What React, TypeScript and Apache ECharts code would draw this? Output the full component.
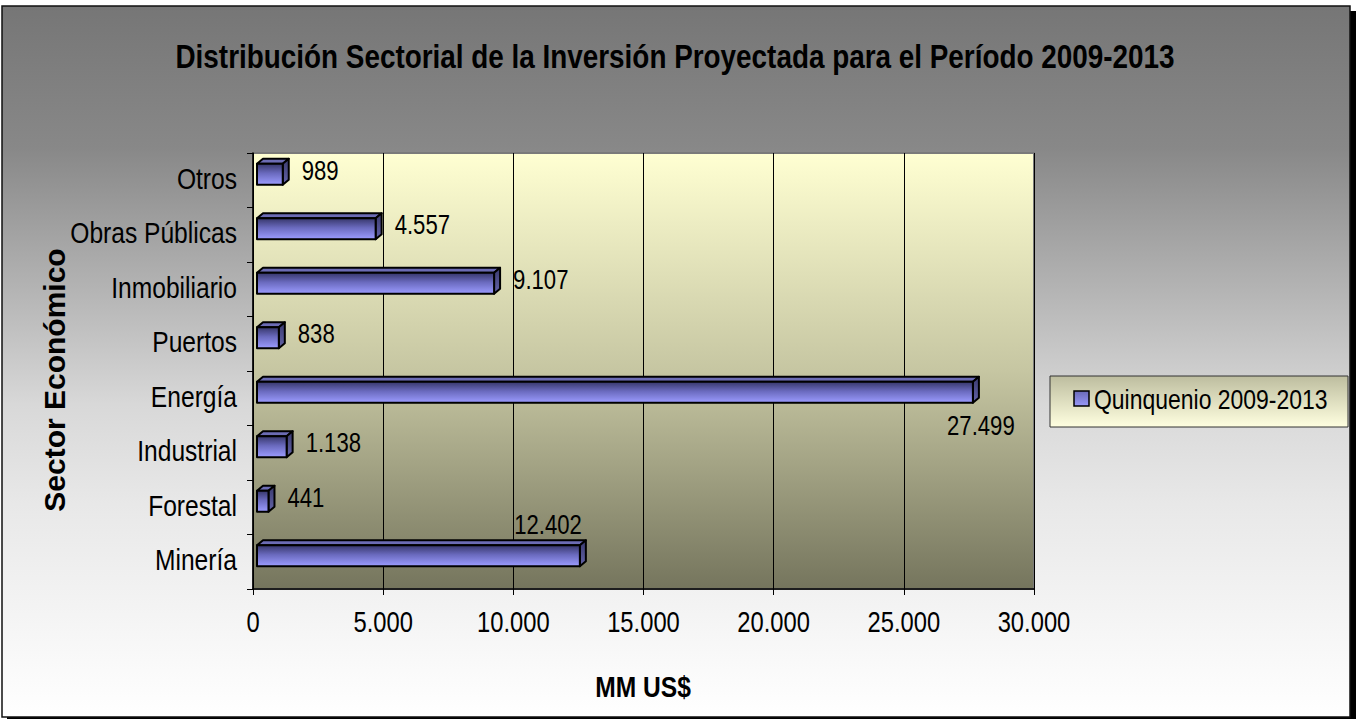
import React, { useEffect, useRef } from "react";
import * as echarts from "echarts";

const categories = ["Minería", "Forestal", "Industrial", "Energía", "Puertos", "Inmobiliario", "Obras Públicas", "Otros"];
const values = [12402, 441, 1138, 27499, 838, 9107, 4557, 989];
const labelPlacement = ["top", "right", "right", "bottom", "right", "right", "right", "right"];
const xTicks = [0, 5000, 10000, 15000, 20000, 25000, 30000];
const seriesName = "Quinquenio 2009-2013";
const titleText = "Distribución Sectorial de la Inversión Proyectada para el Período 2009-2013";
const xAxisTitle = "MM US$";
const yAxisTitle = "Sector Económico";
const xMax = 30000;
const xStep = 5000;

const FONT = "'Liberation Sans', Arial, sans-serif";
const NARROW = 0.82;

function fmt(n: number): string {
  return String(Math.round(n)).replace(/\B(?=(\d{3})+(?!\d))/g, ".");
}

export default function App() {
  const ref = useRef<HTMLDivElement>(null);
  useEffect(() => {
    document.body.style.margin = "0";
    const chart = echarts.init(ref.current!, null, { renderer: "svg" });
    const W = 1363, H = 719;
    const baseGraphic: any[] = [
      { type: "rect", z: -10, shape: { x: 7, y: 11, width: 1349, height: 712 }, style: { fill: "#000" }, silent: true },
      {
        type: "rect", z: -9,
        shape: { x: 2, y: 6, width: 1348, height: 711 },
        style: {
          fill: new echarts.graphic.LinearGradient(0, 0, 0, 1, [
            { offset: 0, color: "#767676" },
            { offset: 0.2, color: "#888888" },
            { offset: 0.4, color: "#b4b4b4" },
            { offset: 0.56, color: "#d8d8d8" },
            { offset: 0.7, color: "#e8e8e8" },
            { offset: 1, color: "#ffffff" },
          ]),
          stroke: "#111", lineWidth: 1.5,
        },
        silent: true,
      },
      {
        type: "text", z: 10, x: 675, y: 57, scaleX: NARROW,
        style: { text: titleText, align: "center", verticalAlign: "middle", fontFamily: FONT, fontWeight: "bold", fontSize: 34, fill: "#000" },
      },
      {
        type: "text", z: 10, x: 643, y: 687, scaleX: NARROW,
        style: { text: xAxisTitle, align: "center", verticalAlign: "middle", fontFamily: FONT, fontWeight: "bold", fontSize: 30, fill: "#000" },
      },
      {
        type: "text", z: 10, x: 54, y: 380, rotation: Math.PI / 2,
        style: { text: yAxisTitle, align: "center", verticalAlign: "middle", fontFamily: FONT, fontWeight: "bold", fontSize: 30, fill: "#000" },
      },
      // legend
      {
        type: "rect", z: 10,
        shape: { x: 1050, y: 376, width: 298, height: 51 },
        style: {
          fill: new echarts.graphic.LinearGradient(0, 0, 0, 1, [
            { offset: 0, color: "#bdbd9f" },
            { offset: 1, color: "#ffffe0" },
          ]),
          stroke: "#333", lineWidth: 1,
        },
      },
      {
        type: "rect", z: 11,
        shape: { x: 1074, y: 391, width: 15, height: 15 },
        style: {
          fill: new echarts.graphic.LinearGradient(0, 0, 0, 1, [
            { offset: 0, color: "#6a6ab8" },
            { offset: 1, color: "#9898f8" },
          ]),
          stroke: "#000", lineWidth: 1.5,
        },
      },
      {
        type: "text", z: 11, x: 1094, y: 399, scaleX: NARROW,
        style: { text: seriesName, align: "left", verticalAlign: "middle", fontFamily: FONT, fontSize: 28, fill: "#000" },
      },
    ];
    const option: any = {
      animation: false,
      backgroundColor: "#ffffff",
      graphic: { elements: baseGraphic },
      grid: {
        left: 253, right: W - 1034, top: 153, bottom: H - 589,
        show: true,
        backgroundColor: new echarts.graphic.LinearGradient(0, 0, 0, 1, [
          { offset: 0, color: "#ffffd2" },
          { offset: 0.5, color: "#c6c6a2" },
          { offset: 1, color: "#75755d" },
        ]),
        borderColor: "#7a7a7a", borderWidth: 2,
      },
      xAxis: {
        type: "value", min: 0, max: xMax, interval: xStep,
        axisLine: { show: true, onZero: false, lineStyle: { color: "#000", width: 1.5 } },
        axisTick: { show: true, length: 6, lineStyle: { color: "#000", width: 1 } },
        splitLine: { show: true, lineStyle: { color: "#000", width: 1 } },
        axisLabel: { show: false },
      },
      yAxis: {
        type: "category", data: categories,
        axisLine: { show: true, lineStyle: { color: "#000", width: 1.5 } },
        axisTick: { show: true, length: 6, lineStyle: { color: "#000", width: 1 } },
        axisLabel: { show: false },
        splitLine: { show: false },
      },
      series: [
        {
          type: "custom",
          name: seriesName,
          encode: { x: 0, y: 1 },
          itemStyle: { color: "#7c7cd6" },
          data: values.map((v, i) => [v, i]),
          renderItem: (params: any, api: any) => {
            const idx = api.value(1);
            const val = api.value(0);
            const start = api.coord([0, idx]);
            const end = api.coord([val, idx]);
            const band = api.size([0, 1])[1];
            const h = band * 0.385;
            const c = start[1];
            const dx = 6, dy = 5;
            const x0 = start[0] + 4, x1 = end[0] + 4;
            const y0 = c - 6 - h / 2, y1 = y0 + h;
            const stroke = { stroke: "#000", lineWidth: 2, lineJoin: "round" };
            const place = labelPlacement[idx];
            let lx = x1 + dx + 13, ly = c - 10, la = "left";
            if (place === "top") { lx = x1 + 2; ly = c - 37; la = "right"; }
            if (place === "bottom") { lx = x1 + 8; ly = c + 27; la = "center"; }
            return {
              type: "group",
              children: [
                {
                  type: "polygon",
                  shape: { points: [[x0, y0], [x0 + dx, y0 - dy], [x1 + dx, y0 - dy], [x1, y0]] },
                  style: { fill: "#6c6cb4", ...stroke },
                },
                {
                  type: "polygon",
                  shape: { points: [[x1, y0], [x1 + dx, y0 - dy], [x1 + dx, y1 - dy], [x1, y1]] },
                  style: {
                    fill: new echarts.graphic.LinearGradient(0, 0, 0, 1, [
                      { offset: 0, color: "#3a3a6e" },
                      { offset: 1, color: "#6464a8" },
                    ]),
                    ...stroke,
                  },
                },
                {
                  type: "polygon",
                  shape: { points: [[x0, y0], [x1, y0], [x1, y1], [x0, y1]] },
                  style: {
                    fill: new echarts.graphic.LinearGradient(0, 0, 0, 1, [
                      { offset: 0, color: "#36366a" },
                      { offset: 0.45, color: "#6a6abe" },
                      { offset: 1, color: "#9c9cff" },
                    ]),
                    ...stroke,
                  },
                },
                {
                  type: "text",
                  x: lx, y: ly, scaleX: NARROW,
                  style: { text: fmt(val), align: la, verticalAlign: "middle", fontFamily: FONT, fontSize: 27, fill: "#000" },
                },
              ],
            };
          },
        },
      ],
    };
    chart.setOption(option);

    // Axis tick labels placed through the chart's own axis scales (narrow lettering)
    const labelGraphic: any[] = [];
    xTicks.forEach((v) => {
      const px = chart.convertToPixel({ xAxisIndex: 0 }, v) as number;
      labelGraphic.push({
        type: "text", z: 10, x: px, y: 622, scaleX: NARROW,
        style: { text: fmt(v), align: "center", verticalAlign: "middle", fontFamily: FONT, fontSize: 29, fill: "#000" },
      });
    });
    categories.forEach((cat) => {
      const py = chart.convertToPixel({ yAxisIndex: 0 }, cat) as number;
      labelGraphic.push({
        type: "text", z: 10, x: 237, y: py - 2, scaleX: NARROW,
        style: { text: cat, align: "right", verticalAlign: "middle", fontFamily: FONT, fontSize: 30, fill: "#000" },
      });
    });
    chart.setOption({ graphic: { elements: [...baseGraphic, ...labelGraphic] } });
    return () => chart.dispose();
  }, []);
  return <div ref={ref} style={{ width: 1363, height: 719 }} />;
}
